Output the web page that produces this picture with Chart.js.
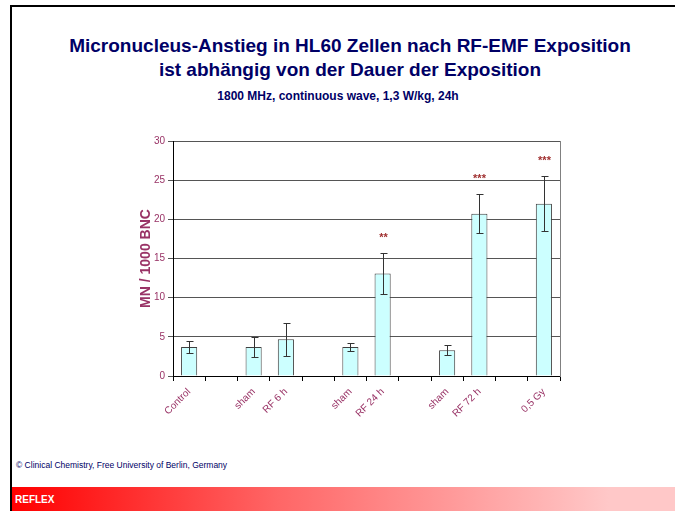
<!DOCTYPE html>
<html>
<head>
<meta charset="utf-8">
<script src="https://cdn.jsdelivr.net/npm/chart.js@4.4.1/dist/chart.umd.min.js"></script>
<style>
  html, body { margin: 0; padding: 0; background: #fff; }
  #page { position: relative; width: 675px; height: 511px; overflow: hidden; font-family: 'Liberation Sans', Arial, sans-serif; }
  #frame-left { position: absolute; left: 10px; top: 5px; width: 2px; height: 506px; background: #000; }
  #frame-top { position: absolute; left: 10px; top: 5px; width: 665px; height: 2px; background: #000; }
  #title { position: absolute; left: 0; width: 700px; top: 34px; text-align: center; color: #000066; font-weight: bold; font-size: 19px; line-height: 24px; }
  #subtitle { position: absolute; left: 0; width: 676px; top: 89px; text-align: center; color: #000066; font-weight: bold; font-size: 12px; }
  #copy { position: absolute; left: 16px; top: 460px; color: #000066; font-size: 8.5px; }
  #footer { position: absolute; left: 12px; top: 487px; width: 663px; height: 24px; background: linear-gradient(to right, #ff0000, #ff6666 40%, #ffc8c8 90%, #ffc8c8); }
  #footer span { position: absolute; left: 3px; top: 7px; color: #fff; font-weight: bold; font-size: 10px; }
  #chart { position: absolute; left: 0; top: 120px; }
</style>
</head>
<body>
<div id="page">
  <div id="frame-left"></div>
  <div id="frame-top"></div>
  <div id="title">Micronucleus-Anstieg in HL60 Zellen nach RF-EMF Exposition<br>ist abhängig von der Dauer der Exposition</div>
  <div id="subtitle">1800 MHz, continuous wave, 1,3 W/kg, 24h</div>
  <canvas id="chart" width="675" height="330"></canvas>
  <div id="copy">© Clinical Chemistry, Free University of Berlin, Germany</div>
  <div id="footer"><span>REFLEX</span></div>
</div>
<script>
const categories = ['Control', '', 'sham', 'RF 6 h', '', 'sham', 'RF 24 h', '', 'sham', 'RF 72 h', '', '0,5 Gy'];
const meanValues = [3.7, null, 3.7, 4.7, null, 3.7, 13.1, null, 3.3, 20.7, null, 22.0];
const errValues  = [0.75, null, 1.25, 2.1, null, 0.55, 2.65, null, 0.6, 2.5, null, 3.5];
const starMarks  = ['', '', '', '', '', '', '**', '', '', '***', '', '***'];
const yTicks = [0, 5, 10, 15, 20, 25, 30];

const PINK = '#993366';

// error bars + significance stars
const errorBarPlugin = {
  id: 'errorBars',
  afterDatasetsDraw(chart) {
    const ctx = chart.ctx;
    const y = chart.scales.y;
    const meta = chart.getDatasetMeta(0);
    ctx.save();
    meta.data.forEach((bar, i) => {
      const m = meanValues[i], e = errValues[i];
      if (m == null || e == null) return;
      const x = Math.round(bar.x) + 0.5;
      const top = Math.round(y.getPixelForValue(m + e)) + 0.5;
      const bot = Math.round(y.getPixelForValue(m - e)) + 0.5;
      ctx.strokeStyle = '#333';
      ctx.lineWidth = 1;
      ctx.beginPath();
      ctx.moveTo(x, top); ctx.lineTo(x, bot);
      ctx.moveTo(x - 3, top); ctx.lineTo(x + 4, top);
      ctx.moveTo(x - 3, bot); ctx.lineTo(x + 4, bot);
      ctx.stroke();
      if (starMarks[i]) {
        ctx.fillStyle = '#a03030';
        ctx.font = 'bold 11px "Liberation Sans", Arial, sans-serif';
        ctx.textAlign = 'center';
        ctx.textBaseline = 'middle';
        ctx.fillText(starMarks[i], x, top - 16);
      }
    });
    ctx.restore();
  }
};

new Chart(document.getElementById('chart'), {
  type: 'bar',
  data: {
    labels: categories,
    datasets: [{
      data: meanValues,
      backgroundColor: '#ccffff',
      borderColor: '#404040',
      borderWidth: 1,
      barPercentage: 0.5,
      categoryPercentage: 1.0
    }]
  },
  options: {
    responsive: false,
    animation: false,
    devicePixelRatio: 1,
    layout: { padding: { left: 134, right: 115, top: 21, bottom: 0 } },
    plugins: { legend: { display: false }, tooltip: { enabled: false } },
    scales: {
      x: {
        grid: { offset: true, drawOnChartArea: false, color: '#000', tickLength: 5 },
        border: { color: '#000', width: 1 },
        ticks: {
          color: PINK, maxRotation: 45, minRotation: 45, autoSkip: false, padding: 5,
          font: { family: "'Liberation Sans', Arial, sans-serif", size: 10 }
        },
        afterFit(s) { s.height = 74; }
      },
      y: {
        min: 0, max: 30,
        afterBuildTicks(s) { s.ticks = yTicks.map(v => ({ value: v })); },
        grid: { color: '#555', tickLength: 5, drawTicks: true },
        border: { color: '#000', width: 1 },
        ticks: {
          color: PINK, padding: 3,
          font: { family: "'Liberation Sans', Arial, sans-serif", size: 10 }
        },
        title: {
          display: true, text: 'MN / 1000 BNC', color: PINK,
          font: { family: "'Liberation Sans', Arial, sans-serif", size: 14, weight: 'bold' }
        },
        afterFit(s) { s.width = 39; }
      },
      y2: {
        position: 'right', min: 0, max: 30,
        grid: { display: false },
        ticks: { display: false },
        border: { color: '#808080', width: 1 },
        afterFit(s) { s.width = 0; }
      }
    }
  },
  plugins: [errorBarPlugin]
});
</script>
</body>
</html>
